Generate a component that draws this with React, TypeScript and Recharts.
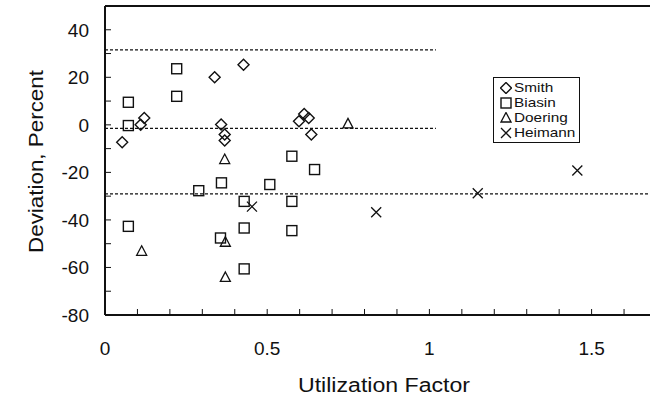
import {
  ScatterChart,
  Scatter,
  XAxis,
  YAxis,
  ReferenceLine,
  Legend
} from "recharts";

// utilization factor (u) vs deviation in percent (d)
const smith = [
  { u: 0.053, d: -7.3 },
  { u: 0.11, d: 0 },
  { u: 0.121, d: 2.9 },
  { u: 0.338, d: 20 },
  { u: 0.427, d: 25.3 },
  { u: 0.358, d: 0.1 },
  { u: 0.369, d: -4.1 },
  { u: 0.369, d: -6.6 },
  { u: 0.598, d: 1.5 },
  { u: 0.614, d: 4.6 },
  { u: 0.628, d: 2.9 },
  { u: 0.636, d: -4.1 }
];

const biasin = [
  { u: 0.072, d: 9.5 },
  { u: 0.072, d: -0.3 },
  { u: 0.221, d: 23.6 },
  { u: 0.221, d: 12.0 },
  { u: 0.576, d: -13.2 },
  { u: 0.646, d: -18.8 },
  { u: 0.359, d: -24.4 },
  { u: 0.508, d: -25.1 },
  { u: 0.289, d: -27.7 },
  { u: 0.429, d: -32.2 },
  { u: 0.576, d: -32.2 },
  { u: 0.072, d: -42.7 },
  { u: 0.429, d: -43.4 },
  { u: 0.576, d: -44.5 },
  { u: 0.356, d: -47.6 },
  { u: 0.429, d: -60.6 }
];

const doering = [
  { u: 0.369, d: -14.6 },
  { u: 0.113, d: -53.2 },
  { u: 0.371, d: -49.4 },
  { u: 0.371, d: -64.2 },
  { u: 0.749, d: 0.4 }
];

const heimann = [
  { u: 0.453, d: -34.4 },
  { u: 0.836, d: -36.8 },
  { u: 1.149, d: -28.8 },
  { u: 1.456, d: -19.2 }
];

// dotted band lines: level and where they stop
const bands = [
  { level: 31.5, end: 1.02 },
  { level: -1.5, end: 1.02 },
  { level: -29, end: 1.68 }
];

const xTicks = [0, 0.1, 0.2, 0.3, 0.4, 0.5, 0.6, 0.7, 0.8, 0.9, 1, 1.1, 1.2, 1.3, 1.4, 1.5, 1.6];
const xLabels = [0, 0.5, 1, 1.5];
const yTicks = [-80, -70, -60, -50, -40, -30, -20, -10, 0, 10, 20, 30, 40, 50];
const yLabels = [-80, -60, -40, -20, 0, 20, 40];

const FONT = "'Liberation Sans', Arial, sans-serif";
const INK = "#111";

const hasLabel = (list: number[], v: number) => list.some((t) => Math.abs(t - v) < 1e-6);

const XTick = (props: any) => {
  const v = props.payload.value;
  if (!hasLabel(xLabels, v)) return <g />;
  return (
    <text x={props.x} y={355} textAnchor="middle" fontSize={19} fontFamily={FONT} fill={INK}>
      {String(v)}
    </text>
  );
};

const YTick = (props: any) => {
  const v = props.payload.value;
  if (!hasLabel(yLabels, v)) return <g />;
  return (
    <text x={89} y={props.y + 7} textAnchor="end" fontSize={19} fontFamily={FONT} fill={INK}>
      {String(v)}
    </text>
  );
};

const Diamond = ({ cx, cy }: any) => (
  <polygon
    points={`${cx},${cy - 5.5} ${cx + 5.5},${cy} ${cx},${cy + 5.5} ${cx - 5.5},${cy}`}
    fill="none"
    stroke={INK}
    strokeWidth={1.4}
  />
);

const Square = ({ cx, cy }: any) => (
  <rect x={cx - 5} y={cy - 5} width={10} height={10} fill="none" stroke={INK} strokeWidth={1.4} />
);

const Triangle = ({ cx, cy }: any) => (
  <polygon
    points={`${cx},${cy - 5.5} ${cx + 5},${cy + 4} ${cx - 5},${cy + 4}`}
    fill="none"
    stroke={INK}
    strokeWidth={1.3}
  />
);

const Cross = ({ cx, cy }: any) => (
  <path
    d={`M${cx - 5},${cy - 5}L${cx + 5},${cy + 5}M${cx + 5},${cy - 5}L${cx - 5},${cy + 5}`}
    stroke={INK}
    strokeWidth={1.3}
  />
);

const legendItems = [
  { name: "Smith", Shape: Diamond },
  { name: "Biasin", Shape: Square },
  { name: "Doering", Shape: Triangle },
  { name: "Heimann", Shape: Cross }
];

const LegendBox = () => (
  <div
    style={{
      border: `1px solid ${INK}`,
      background: "#fff",
      padding: "2px 0 0 6px",
      boxSizing: "border-box",
      width: 87,
      height: 66,
      fontFamily: FONT,
      fontSize: 13,
      color: INK
    }}
  >
    {legendItems.map(({ name, Shape }) => (
      <div key={name} style={{ display: "flex", alignItems: "center", height: 15 }}>
        <svg width={12} height={12} style={{ marginRight: 2 }}>
          <Shape cx={6} cy={6} />
        </svg>
        <span style={{ display: "inline-block", transform: "scaleX(1.18)", transformOrigin: "left center" }}>
          {name}
        </span>
      </div>
    ))}
  </div>
);

const App = () => {
  return (
    <div style={{ position: "absolute", left: 0, top: 0, background: "#fff" }}>
      <ScatterChart width={650} height={400} margin={{ top: 6, right: 0, bottom: 0, left: 0 }}>
        <XAxis
          type="number"
          dataKey="u"
          domain={[0, 1.68]}
          ticks={xTicks}
          interval={0}
          height={85}
          tickSize={-6}
          tickLine={{ stroke: INK, strokeWidth: 1 }}
          axisLine={{ stroke: INK, strokeWidth: 2 }}
          tick={XTick}
          label={{
            content: () => (
              <text
                x={384}
                y={392}
                textAnchor="middle"
                fontSize={20}
                fontFamily={FONT}
                fill={INK}
                textLength={172}
                lengthAdjust="spacingAndGlyphs"
              >
                Utilization Factor
              </text>
            )
          }}
        />
        <YAxis
          type="number"
          dataKey="d"
          domain={[-80, 50]}
          ticks={yTicks}
          interval={0}
          width={105}
          tickSize={-6}
          tickLine={{ stroke: INK, strokeWidth: 1 }}
          axisLine={{ stroke: INK, strokeWidth: 2 }}
          tick={YTick}
          label={{
            content: () => (
              <text
                x={43}
                y={161.5}
                transform="rotate(-90, 43, 161.5)"
                textAnchor="middle"
                fontSize={20}
                fontFamily={FONT}
                fill={INK}
                textLength={183}
                lengthAdjust="spacingAndGlyphs"
              >
                Deviation, Percent
              </text>
            )
          }}
        />
        <ReferenceLine y={50} stroke={INK} strokeWidth={2} />
        {bands.map((b) => (
          <ReferenceLine
            key={b.level}
            segment={[
              { x: 0, y: b.level },
              { x: b.end, y: b.level }
            ]}
            stroke={INK}
            strokeWidth={1.2}
            strokeDasharray="3 2"
          />
        ))}
        <Scatter name="Smith" data={smith} shape={Diamond} isAnimationActive={false} />
        <Scatter name="Biasin" data={biasin} shape={Square} isAnimationActive={false} />
        <Scatter name="Doering" data={doering} shape={Triangle} isAnimationActive={false} />
        <Scatter name="Heimann" data={heimann} shape={Cross} isAnimationActive={false} />
        <Legend
          layout="horizontal"
          verticalAlign="middle"
          align="center"
          content={LegendBox}
          wrapperStyle={{ left: 493, top: 77, width: 87, height: 66 }}
        />
      </ScatterChart>
    </div>
  );
};

export default App;
